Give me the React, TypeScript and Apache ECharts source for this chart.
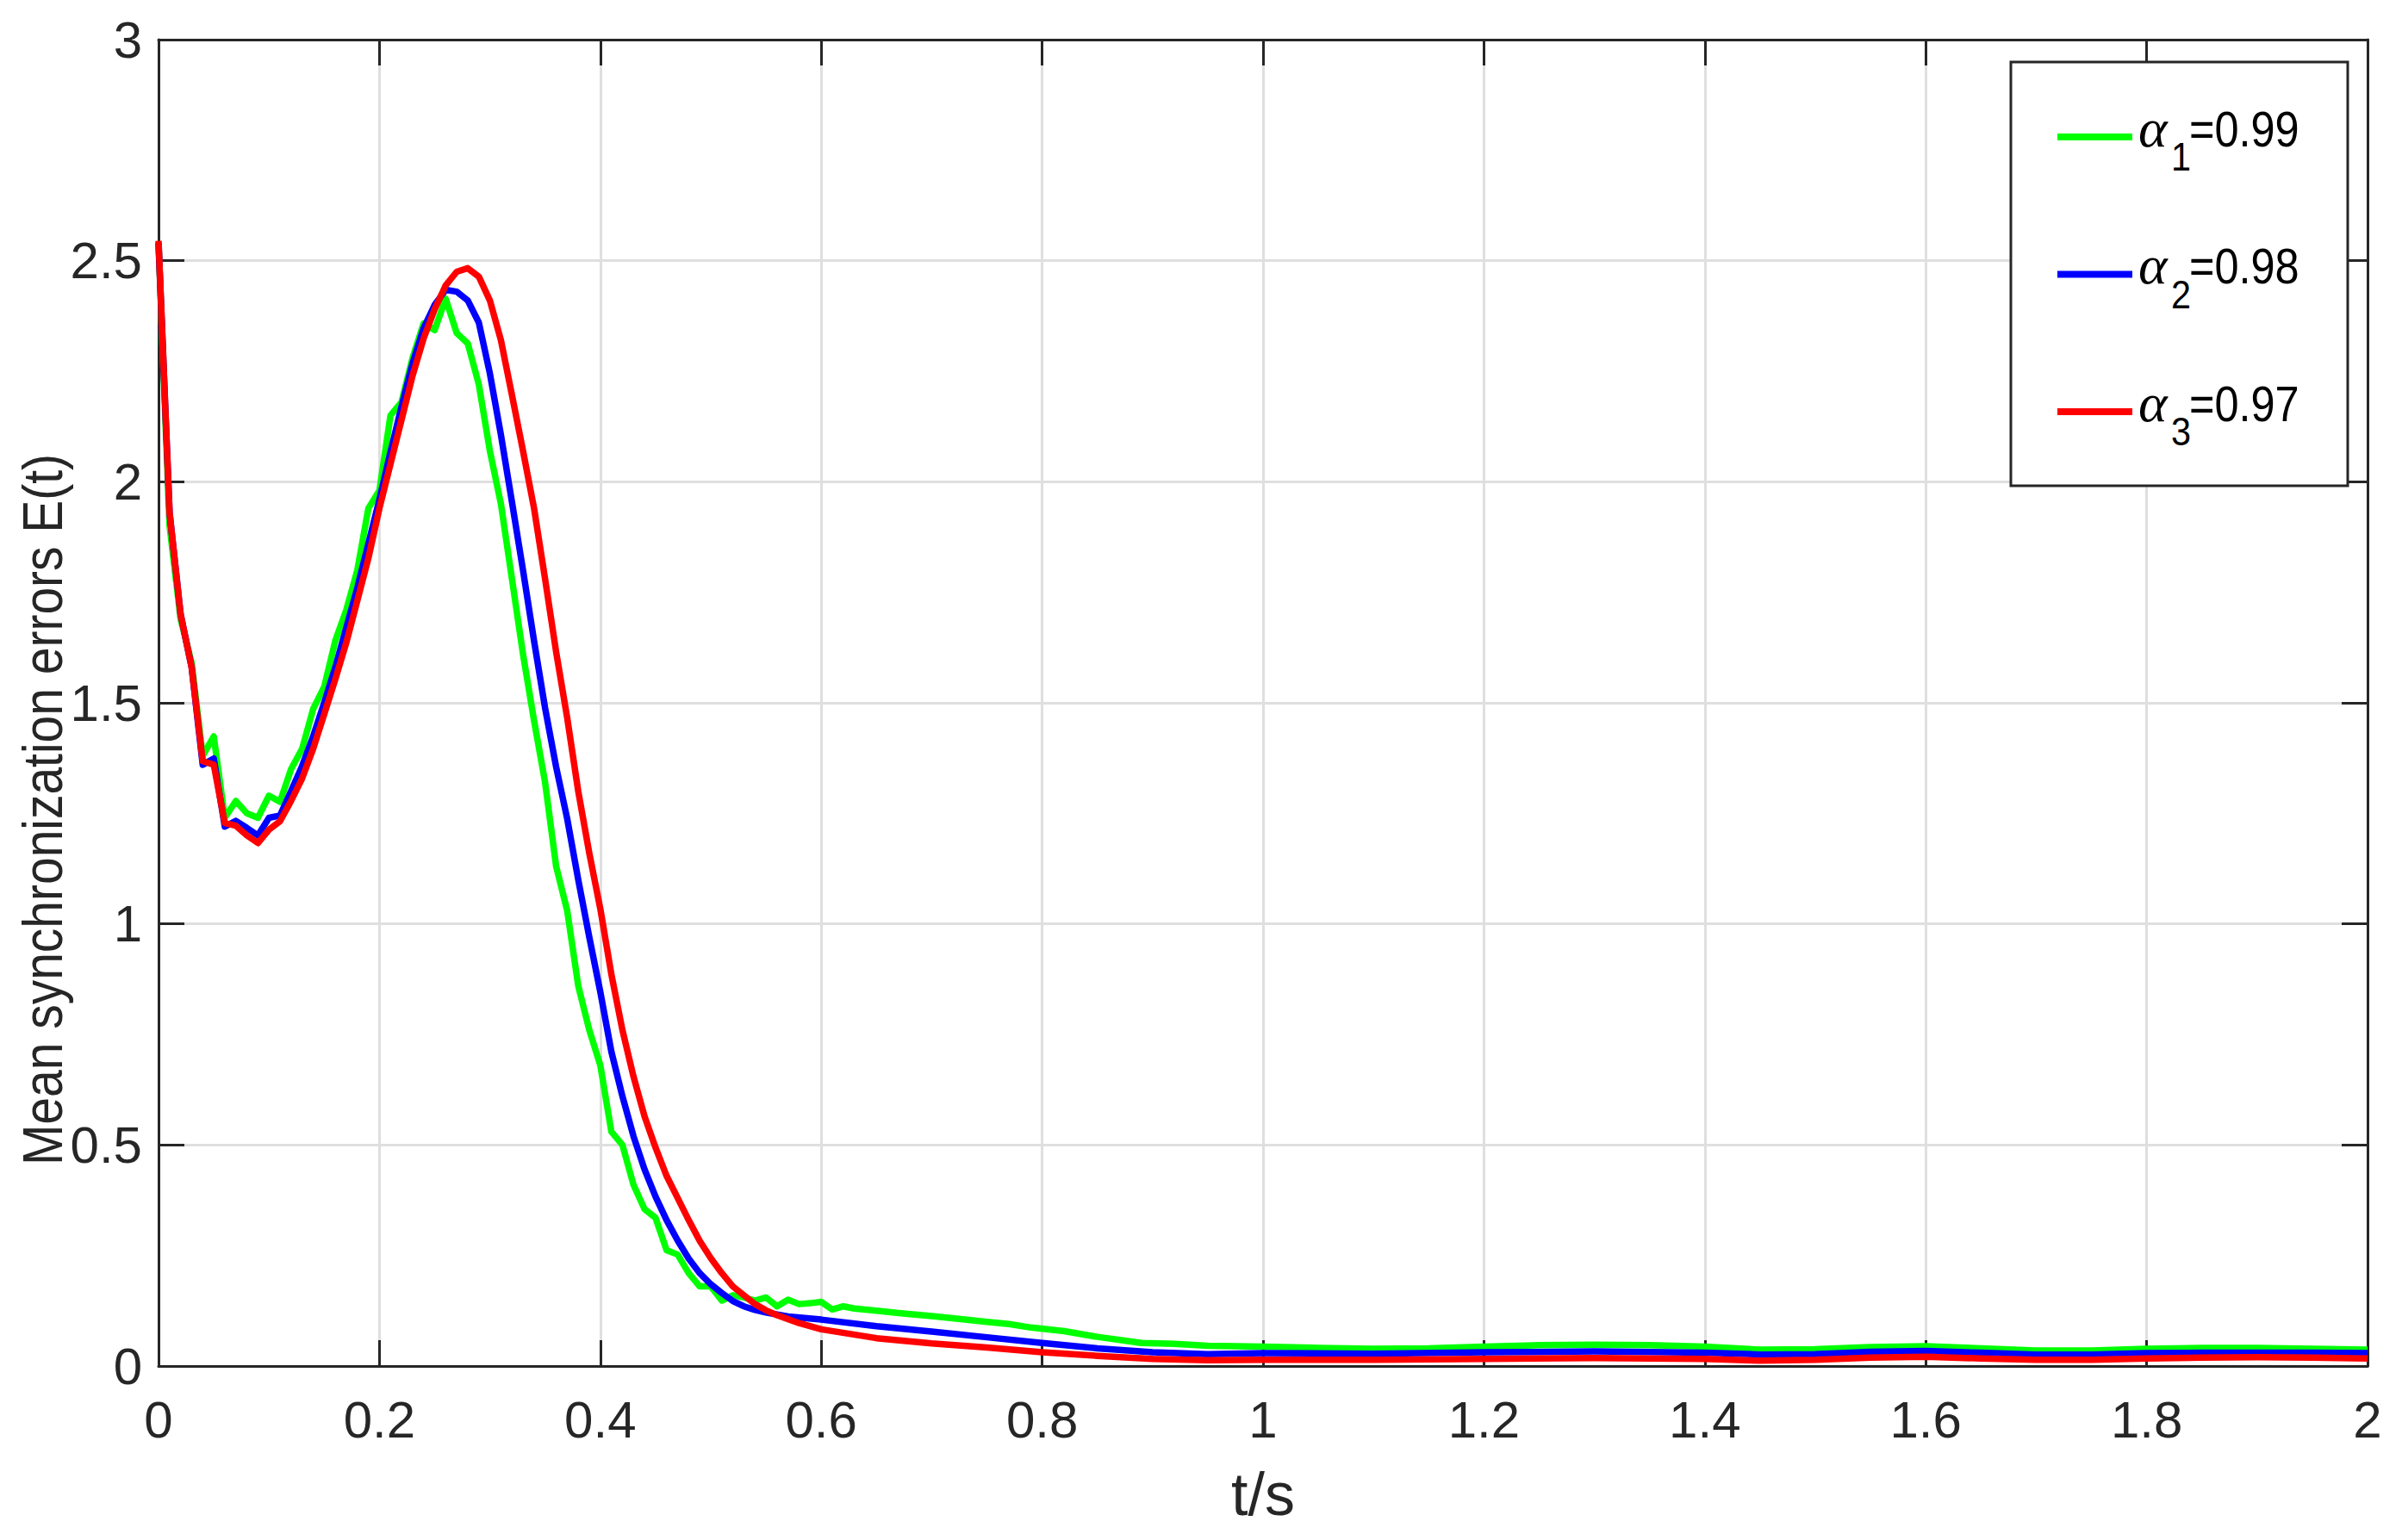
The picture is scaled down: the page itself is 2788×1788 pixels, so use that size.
import React, { useEffect, useRef } from 'react';
import * as echarts from 'echarts';

// ---------- data (t in s, E(t)) ----------
const seriesNames = ['α1=0.99', 'α2=0.98', 'α3=0.97'];
const legendSubscripts = ['1', '2', '3'];
const legendValues = ['=0.99', '=0.98', '=0.97'];
const seriesColors = ['#00ff00', '#0000ff', '#ff0000'];

const greenData: [number, number][] = [
  [0, 2.54], [0.01, 1.9], [0.02, 1.69], [0.03, 1.59], [0.04, 1.38], [0.05, 1.424],
  [0.06, 1.24], [0.07, 1.278], [0.08, 1.25], [0.09, 1.24], [0.1, 1.29], [0.11, 1.276],
  [0.12, 1.35], [0.13, 1.396], [0.14, 1.486], [0.15, 1.536], [0.16, 1.64], [0.17, 1.71],
  [0.18, 1.8], [0.19, 1.94], [0.2, 1.98], [0.21, 2.15], [0.22, 2.18], [0.23, 2.28],
  [0.24, 2.358], [0.25, 2.343], [0.26, 2.414], [0.27, 2.336], [0.28, 2.313], [0.29, 2.22],
  [0.3, 2.07], [0.31, 1.95], [0.32, 1.78], [0.33, 1.61], [0.34, 1.46], [0.35, 1.32],
  [0.36, 1.13], [0.37, 1.03], [0.38, 0.86], [0.39, 0.76], [0.4, 0.68], [0.41, 0.53],
  [0.42, 0.5], [0.43, 0.41], [0.44, 0.355], [0.45, 0.335], [0.46, 0.262], [0.47, 0.252],
  [0.48, 0.21], [0.49, 0.18], [0.5, 0.18], [0.51, 0.148], [0.52, 0.16], [0.53, 0.155],
  [0.54, 0.148], [0.55, 0.155], [0.56, 0.135], [0.57, 0.15], [0.58, 0.14], [0.59, 0.142],
  [0.6, 0.145], [0.61, 0.128], [0.62, 0.135], [0.63, 0.13], [0.65, 0.125], [0.67, 0.12],
  [0.7, 0.113], [0.73, 0.105], [0.75, 0.1], [0.77, 0.095], [0.79, 0.087], [0.82, 0.079],
  [0.85, 0.066], [0.89, 0.052], [0.92, 0.05], [0.95, 0.046], [1.0, 0.044], [1.05, 0.041],
  [1.1, 0.039], [1.15, 0.04], [1.2, 0.044], [1.25, 0.047], [1.3, 0.048], [1.35, 0.047],
  [1.4, 0.044], [1.45, 0.037], [1.5, 0.038], [1.55, 0.043], [1.6, 0.045], [1.65, 0.04],
  [1.7, 0.035], [1.75, 0.035], [1.8, 0.039], [1.85, 0.041], [1.9, 0.041], [1.95, 0.039],
  [2.0, 0.037],
];

const blueData: [number, number][] = [
  [0, 2.54], [0.01, 1.93], [0.02, 1.7], [0.03, 1.58], [0.04, 1.36], [0.05, 1.374],
  [0.06, 1.22], [0.07, 1.233], [0.08, 1.217], [0.09, 1.2], [0.1, 1.24], [0.11, 1.245],
  [0.12, 1.3], [0.13, 1.357], [0.14, 1.424], [0.15, 1.5], [0.16, 1.58], [0.17, 1.67],
  [0.18, 1.76], [0.19, 1.86], [0.2, 1.96], [0.21, 2.067], [0.22, 2.17], [0.23, 2.268],
  [0.24, 2.347], [0.25, 2.4], [0.26, 2.434], [0.27, 2.43], [0.28, 2.41], [0.29, 2.36],
  [0.3, 2.245], [0.31, 2.106], [0.32, 1.954], [0.33, 1.8], [0.34, 1.64], [0.35, 1.488],
  [0.36, 1.355], [0.37, 1.238], [0.38, 1.1], [0.39, 0.97], [0.4, 0.846], [0.41, 0.711],
  [0.42, 0.61], [0.43, 0.52], [0.44, 0.445], [0.45, 0.383], [0.46, 0.33], [0.47, 0.284],
  [0.48, 0.243], [0.49, 0.21], [0.5, 0.185], [0.51, 0.165], [0.52, 0.147], [0.53, 0.135],
  [0.54, 0.127], [0.55, 0.121], [0.57, 0.112], [0.6, 0.105], [0.65, 0.09], [0.7, 0.078],
  [0.75, 0.065], [0.8, 0.052], [0.85, 0.04], [0.9, 0.031], [0.95, 0.027], [1.0, 0.029],
  [1.1, 0.028], [1.2, 0.031], [1.3, 0.033], [1.4, 0.03], [1.45, 0.026], [1.5, 0.027],
  [1.55, 0.032], [1.6, 0.034], [1.65, 0.03], [1.7, 0.026], [1.75, 0.026], [1.8, 0.029],
  [1.85, 0.03], [1.9, 0.03], [1.95, 0.03], [2.0, 0.029],
];

const redData: [number, number][] = [
  [0, 2.545], [0.01, 1.93], [0.02, 1.7], [0.03, 1.58], [0.04, 1.368], [0.05, 1.36],
  [0.06, 1.228], [0.07, 1.222], [0.08, 1.2], [0.09, 1.183], [0.1, 1.213], [0.11, 1.232],
  [0.12, 1.278], [0.13, 1.329], [0.14, 1.396], [0.15, 1.474], [0.16, 1.553], [0.17, 1.636],
  [0.18, 1.731], [0.19, 1.827], [0.2, 1.94], [0.21, 2.04], [0.22, 2.14], [0.23, 2.24],
  [0.24, 2.324], [0.25, 2.39], [0.26, 2.444], [0.27, 2.475], [0.28, 2.483], [0.29, 2.464],
  [0.3, 2.41], [0.31, 2.32], [0.32, 2.196], [0.33, 2.07], [0.34, 1.94], [0.35, 1.78],
  [0.36, 1.615], [0.37, 1.466], [0.38, 1.3], [0.39, 1.16], [0.4, 1.034], [0.41, 0.886],
  [0.42, 0.76], [0.43, 0.655], [0.44, 0.565], [0.45, 0.494], [0.46, 0.43], [0.47, 0.38],
  [0.48, 0.33], [0.49, 0.283], [0.5, 0.244], [0.51, 0.21], [0.52, 0.18], [0.53, 0.16],
  [0.54, 0.14], [0.55, 0.126], [0.56, 0.115], [0.58, 0.097], [0.6, 0.083], [0.65, 0.063],
  [0.7, 0.051], [0.75, 0.042], [0.8, 0.031], [0.85, 0.023], [0.9, 0.016], [0.95, 0.013],
  [1.0, 0.014], [1.1, 0.014], [1.2, 0.016], [1.3, 0.018], [1.4, 0.016], [1.45, 0.012],
  [1.5, 0.014], [1.55, 0.019], [1.6, 0.021], [1.65, 0.017], [1.7, 0.014], [1.75, 0.014],
  [1.8, 0.017], [1.85, 0.019], [1.9, 0.02], [1.95, 0.019], [2.0, 0.017],
];

const xAxisTitle = 't/s';
const yAxisTitle = 'Mean synchronization errors E(t)';

// ---------- styles ----------
const SANS = "'Liberation Sans', Arial, Helvetica, sans-serif";
const SERIF = "'Liberation Serif', 'DejaVu Serif', serif";
const INK = '#262626';
const GRID = '#dfdfdf';

export default function App() {
  const ref = useRef<HTMLDivElement>(null);

  useEffect(() => {
    if (!ref.current) return;
    const chart = echarts.init(ref.current, null, { renderer: 'svg' });

    const axisLine = { show: true, onZero: false, lineStyle: { color: INK, width: 3 } };
    const axisTick = { show: true, inside: true, length: 30, lineStyle: { color: INK, width: 3 } };
    const labelStyle = { color: INK, fontSize: 60, fontFamily: SANS };

    const legendTop = 72;
    const legendLeft = 2334;
    const rowY = [159, 318.5, 478];

    const legendGraphics: any[] = [
      {
        type: 'rect',
        z: 100,
        shape: { x: legendLeft, y: legendTop, width: 391, height: 492 },
        style: { fill: '#ffffff', stroke: INK, lineWidth: 3 },
      },
    ];
    seriesNames.forEach((_, i) => {
      const y = rowY[i];
      legendGraphics.push({
        type: 'line',
        z: 101,
        shape: { x1: 2388, y1: y, x2: 2475, y2: y },
        style: { stroke: seriesColors[i], lineWidth: 8 },
      });
      legendGraphics.push({
        type: 'text',
        z: 101,
        x: 2482,
        y: y - 11,
        style: {
          text: 'α',
          fontFamily: SERIF,
          fontStyle: 'italic',
          fontSize: 64,
          fill: '#000000',
          align: 'left',
          verticalAlign: 'middle',
        },
      });
      legendGraphics.push({
        type: 'text',
        z: 101,
        x: 2520,
        y: y + 23,
        scaleX: 0.9,
        style: {
          text: legendSubscripts[i],
          fontFamily: SANS,
          fontSize: 46,
          fill: '#000000',
          align: 'left',
          verticalAlign: 'middle',
        },
      });
      legendGraphics.push({
        type: 'text',
        z: 101,
        x: 2541,
        y: y - 9,
        scaleX: 0.87,
        style: {
          text: legendValues[i],
          fontFamily: SANS,
          fontSize: 58,
          fill: '#000000',
          align: 'left',
          verticalAlign: 'middle',
        },
      });
    });

    const option: any = {
      animation: false,
      backgroundColor: '#ffffff',
      grid: { left: 184, right: 40, top: 46, bottom: 202, containLabel: false, outerBoundsMode: 'none' },
      xAxis: [
        {
          type: 'value', min: 0, max: 2, interval: 0.2, position: 'bottom',
          axisLine, axisTick,
          axisLabel: { ...labelStyle, margin: 32 },
          splitLine: { show: true, lineStyle: { color: GRID, width: 3 } },
          name: xAxisTitle, nameLocation: 'middle', nameGap: 114,
          nameTextStyle: { color: INK, fontSize: 70, fontFamily: SANS },
        },
        {
          type: 'value', min: 0, max: 2, interval: 0.2, position: 'top',
          axisLine, axisTick, axisLabel: { show: false }, splitLine: { show: false },
        },
      ],
      yAxis: [
        {
          type: 'value', min: 0, max: 3, interval: 0.5, position: 'left',
          axisLine, axisTick,
          axisLabel: { ...labelStyle, margin: 19 },
          splitLine: { show: true, lineStyle: { color: GRID, width: 3 } },
        },
        {
          type: 'value', min: 0, max: 3, interval: 0.5, position: 'right',
          axisLine, axisTick, axisLabel: { show: false }, splitLine: { show: false },
        },
      ],
      series: [greenData, blueData, redData].map((d, i) => ({
        name: seriesNames[i],
        type: 'line',
        xAxisIndex: 0,
        yAxisIndex: 0,
        data: d,
        showSymbol: false,
        symbol: 'none',
        lineStyle: { color: seriesColors[i], width: 7.5, join: 'round' },
        itemStyle: { color: seriesColors[i] },
        z: 10 + i,
      })),
      graphic: [
        {
          type: 'text',
          z: 100,
          x: 50,
          y: 940,
          rotation: Math.PI / 2,
          scaleX: 0.89,
          style: {
            text: yAxisTitle,
            fontFamily: SANS,
            fontSize: 64,
            fill: INK,
            align: 'center',
            verticalAlign: 'middle',
          },
        },
        ...legendGraphics,
      ],
    };

    chart.setOption(option);
    return () => chart.dispose();
  }, []);

  return (
    <div
      ref={ref}
      style={{ position: 'absolute', left: 0, top: 0, width: 2788, height: 1788, background: '#ffffff' }}
    />
  );
}
